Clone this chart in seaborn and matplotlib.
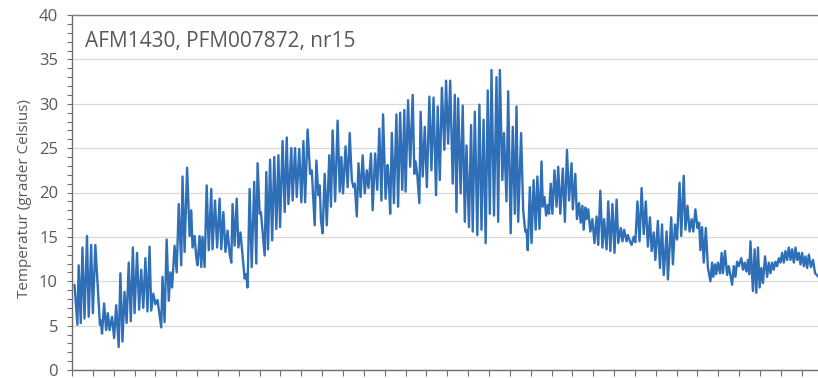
import numpy as np
import pandas as pd
import matplotlib
matplotlib.use("Agg")
import matplotlib.pyplot as plt
from matplotlib.ticker import MultipleLocator, NullFormatter
import seaborn as sns

# Logger temperature, daily highs and lows (days since start of logging)
day = [
    0.6, 1.3, 1.6, 2.1, 2.5, 3.0, 3.6, 4.0, 4.6, 5.0, 5.6, 6.7, 6.9, 7.2, 7.7, 8.2,
    8.6, 9.0, 9.6, 10.1, 10.6, 11.2, 11.6, 12.1, 12.6, 13.1, 13.6, 14.1, 14.6, 15.0,
    15.6, 16.1, 16.6, 17.1, 17.6, 18.1, 18.6,
    19.0, 19.5, 20.0, 20.5, 21.4, 21.7, 22.2, 22.7, 23.2, 23.6, 24.0, 24.6, 25.1,
    25.6, 26.2, 26.5, 27.0, 27.6, 28.2, 28.6, 28.9, 29.4, 29.8, 30.1, 30.6, 31.0,
    31.3, 31.8, 32.3, 32.8, 33.4, 33.7, 34.3, 34.8, 35.4, 35.8, 36.3, 36.8, 37.3,
    37.8, 38.2, 38.5, 39.0, 39.5,
    39.9, 40.4, 41.4, 41.8, 42.1, 42.6, 43.1, 43.7, 44.2, 44.5, 45.0, 45.3, 46.2,
    46.6, 47.0, 47.5, 48.0, 48.5, 49.0, 49.5, 49.9, 50.5, 51.0, 51.5, 51.9, 52.6,
    52.9, 53.5, 53.9, 54.5, 55.0, 55.5, 55.9, 56.5, 57.1, 57.5, 58.2, 58.6, 59.1,
    59.4, 59.7, 60.1,
    60.6, 61.1, 61.7, 62.1, 62.5, 63.1, 63.7, 64.2, 64.6, 65.0, 65.6, 66.1, 66.6,
    67.1, 67.5, 67.8, 68.3, 68.7, 69.2, 69.7, 70.2, 70.7, 71.1, 71.7, 72.1, 72.7,
    73.2, 73.7, 74.2, 74.6, 75.2, 75.7, 76.0, 76.3, 76.7, 77.2, 77.8, 78.2, 78.7,
    79.2,
    79.7, 80.0, 80.6, 81.1, 81.7, 82.1, 82.4, 82.8, 83.3, 83.6, 84.1, 84.6, 85.1,
    85.7, 86.2, 86.7, 87.3, 87.7, 88.2, 88.7, 89.3, 89.7, 90.2, 90.7, 91.3, 91.8,
    92.2, 92.6, 93.2, 93.7, 94.2, 94.6, 95.2, 95.7, 96.1, 96.6, 97.2, 97.7, 98.2,
    98.7, 99.2,
    99.7, 100.2, 100.6, 101.2, 101.8, 102.2, 102.6, 103.2, 103.6, 104.2, 104.6,
    105.2, 105.7, 106.2, 106.6, 107.0, 107.7, 108.2, 108.7, 109.0, 109.3, 109.8,
    110.2, 110.7, 111.2, 111.6, 112.1, 112.6, 112.9, 113.3, 113.7, 114.1, 114.4,
    114.8, 115.2, 115.7, 116.2, 116.6, 117.1, 117.7, 118.2, 118.7, 119.2, 119.8,
    120.1, 120.7, 121.1, 121.6, 122.0, 122.4, 122.7, 123.1, 123.4, 123.8, 124.3,
    124.8, 125.3, 125.8, 126.2, 126.7, 127.2, 127.6, 128.2, 128.6, 129.1, 129.6,
    130.1, 130.6, 131.0, 131.6, 132.0, 132.4, 133.0, 133.3, 133.8, 134.2, 134.7,
    135.1, 135.6, 136.1, 136.6, 137.1, 137.6, 138.1, 138.6, 139.0, 139.5, 139.9,
    140.5, 141.0, 141.5, 141.9, 142.6, 142.9, 143.7, 144.1, 144.6, 145.1, 145.7,
    146.1, 146.7, 147.1, 147.6, 148.1, 148.6, 149.0, 149.5, 150.0, 150.4, 150.7,
    151.1, 151.5, 152.0, 152.5, 153.1, 153.5, 153.8, 154.2, 154.5, 154.9, 155.4,
    155.8, 156.1, 156.6, 157.1, 157.5, 157.9, 158.3, 158.7, 159.1, 159.5, 159.9,
    160.5, 160.9, 161.3, 161.7, 162.1, 162.4, 162.7, 163.3, 163.7, 164.1, 164.5,
    164.9, 165.3, 165.7, 166.2, 166.7, 167.1, 167.5, 167.9, 168.3, 168.7, 169.1,
    169.5, 169.9, 170.3, 170.7, 171.1, 171.5, 171.9, 172.3, 172.7, 173.1, 173.5,
    173.9, 174.3, 174.7, 175.1, 175.5, 175.9, 176.3, 176.7, 177.2, 177.7, 178.2,
    179.0,
]

temperature = [
    9.6, 5.1, 11.8, 5.3, 13.8, 5.8, 15.1, 6.0, 14.1, 6.4, 14.1, 5.1, 5.6, 4.1, 7.5, 4.5,
    6.4, 4.5, 6.0, 3.6, 7.3, 2.6, 10.9, 3.2, 8.8, 5.3, 12.1, 5.5, 13.8, 6.4,
    13.2, 6.8, 11.3, 7.0, 12.6, 6.6, 13.9,
    6.7, 8.6, 7.4, 7.9, 4.8, 10.5, 5.4, 14.7, 7.8, 11.0, 9.3, 14.0, 11.0,
    18.7, 11.8, 21.8, 13.3, 22.8, 15.1, 18.0, 13.8, 15.1, 12.7, 11.8, 15.1, 11.6,
    15.0, 11.6, 20.8, 13.5, 20.4, 13.6, 19.1, 13.8, 19.3, 13.6, 17.8, 13.3, 15.7,
    13.1, 12.1, 18.7, 14.0, 19.3,
    13.8, 15.5, 10.3, 10.8, 9.3, 20.4, 11.6, 21.2, 12.0, 23.3, 17.6, 17.8, 12.9,
    22.3, 13.6, 23.7, 14.6, 24.0, 15.9, 24.2, 16.1, 25.8, 17.8, 26.2, 18.7, 25.0,
    19.1, 25.0, 19.5, 24.9, 18.9, 25.8, 18.9, 27.1, 22.1, 22.5, 16.3, 23.6, 19.7,
    20.8, 16.9, 15.4,
    22.1, 16.3, 24.2, 18.4, 27.0, 19.0, 28.1, 20.1, 24.0, 19.9, 25.2, 20.6, 26.7,
    21.4, 20.6, 21.0, 17.3, 23.3, 19.5, 24.2, 19.9, 22.5, 20.5, 24.4, 18.0, 24.4,
    20.3, 27.2, 19.1, 28.8, 19.3, 23.1, 21.2, 17.6, 26.7, 18.8, 28.8, 18.4, 29.0,
    20.3,
    29.3, 20.1, 30.4, 22.9, 31.0, 22.1, 23.5, 22.0, 18.8, 29.1, 21.8, 27.4, 20.6,
    30.8, 22.5, 30.7, 19.7, 29.7, 21.4, 31.8, 24.8, 32.6, 25.5, 32.6, 21.0, 31.0,
    17.8, 30.6, 19.9, 29.8, 16.7, 25.3, 16.1, 27.6, 15.6, 29.1, 15.2, 29.9, 15.8,
    28.2, 14.3,
    31.5, 17.6, 33.8, 17.4, 33.0, 16.7, 33.8, 21.4, 26.7, 19.0, 31.4,
    15.4, 27.4, 17.6, 29.7, 16.7, 26.7, 18.0, 15.6, 15.8, 13.5, 20.6,
    14.3, 21.4, 15.8, 21.8, 15.9, 23.5, 18.4, 19.5, 17.4, 18.6, 17.6,
    21.0, 17.6, 22.5, 18.4, 22.9, 17.6, 22.7, 16.7, 24.8, 19.1, 23.3,
    18.1, 22.1, 17.0, 18.8, 16.6, 18.5, 15.8, 18.3, 17.0, 18.1, 15.6,
    17.0, 14.3, 17.3, 14.1, 20.2, 13.8, 17.0, 13.6, 19.0, 13.4, 18.7,
    13.2, 19.2, 14.3, 16.0, 14.5, 15.8, 14.5, 15.2, 14.5, 14.1, 15.0,
    14.4, 19.0, 14.5, 20.5, 15.3, 19.0, 13.9, 17.2, 13.4, 15.5, 12.4,
    16.8, 11.5, 16.4, 10.7, 15.6, 10.2, 17.2, 11.9, 16.4, 14.7, 21.1,
    15.1, 21.9, 15.8, 18.5, 15.6, 17.0, 15.6, 18.1, 16.0, 16.6, 13.5,
    16.1, 12.1, 16.0, 11.5, 10.0, 12.1, 10.5, 11.9, 10.8, 12.1, 10.9,
    13.2, 10.9, 13.4, 10.7, 11.7, 10.7, 9.6, 11.7, 10.5, 12.2, 11.7,
    12.6, 11.3, 12.1, 11.1, 12.4, 10.8, 14.5, 8.9, 13.6, 8.7, 13.8,
    9.3, 11.5, 9.8, 12.8, 10.5, 12.1, 10.9, 12.1, 11.3, 12.2, 11.7,
    12.6, 12.1, 13.2, 12.1, 13.4, 12.4, 13.8, 12.4, 13.6, 12.1, 13.8,
    12.4, 13.2, 11.9, 13.2, 11.7, 12.8, 11.5, 13.0, 11.6, 12.4, 10.9,
    10.5,
]

title = "AFM1430, PFM007872, nr15"
y_label = "Temperatur (grader Celsius)"
y_ticks = [0, 5, 10, 15, 20, 25, 30, 35, 40]

df = pd.DataFrame({"day": day, "temperature": temperature})

sns.set_style("white")
plt.rcParams["font.family"] = ["Open Sans", "DejaVu Sans"]

fig = plt.figure(figsize=(8.18, 3.78), dpi=100)
ax = fig.add_axes([72 / 818, 8 / 378, 1 - 72 / 818, 355 / 378])

sns.lineplot(data=df, x="day", y="temperature", ax=ax, color="#2f6fb7",
             linewidth=1.7, estimator=None, sort=False)

ax.set_xlim(0, 178.9)
ax.set_ylim(0, 40)
ax.set_yticks(y_ticks)
ax.yaxis.set_minor_locator(MultipleLocator(1))
ax.xaxis.set_major_locator(MultipleLocator(5))
ax.xaxis.set_major_formatter(NullFormatter())
ax.set_xlabel("")

ax.grid(axis="y", which="major", color="#d9d9d9", linewidth=0.9)
ax.grid(axis="x", visible=False)
ax.set_axisbelow(True)

axis_color = "#6e6e6e"
for side in ["left", "bottom"]:
    ax.spines[side].set_color(axis_color)
    ax.spines[side].set_linewidth(1.0)
ax.spines["top"].set_color("#7f7f7f")
ax.spines["top"].set_linewidth(1.0)
ax.spines["right"].set_visible(False)

ax.tick_params(axis="y", which="both", direction="out", length=3.6, width=0.8,
               color=axis_color, left=True, labelsize=12, labelcolor="#595959", pad=6.5)
ax.tick_params(axis="x", which="major", direction="out", length=4.5, width=0.8,
               color=axis_color, bottom=True)

ax.set_ylabel(y_label, fontsize=11, color="#595959")
ax.yaxis.set_label_coords(-0.054, 0.483)

ax.text(0.0174, 0.911, title, transform=ax.transAxes, fontsize=15,
        color="#595959", ha="left", va="baseline")

fig.savefig("out.png", dpi=100)
